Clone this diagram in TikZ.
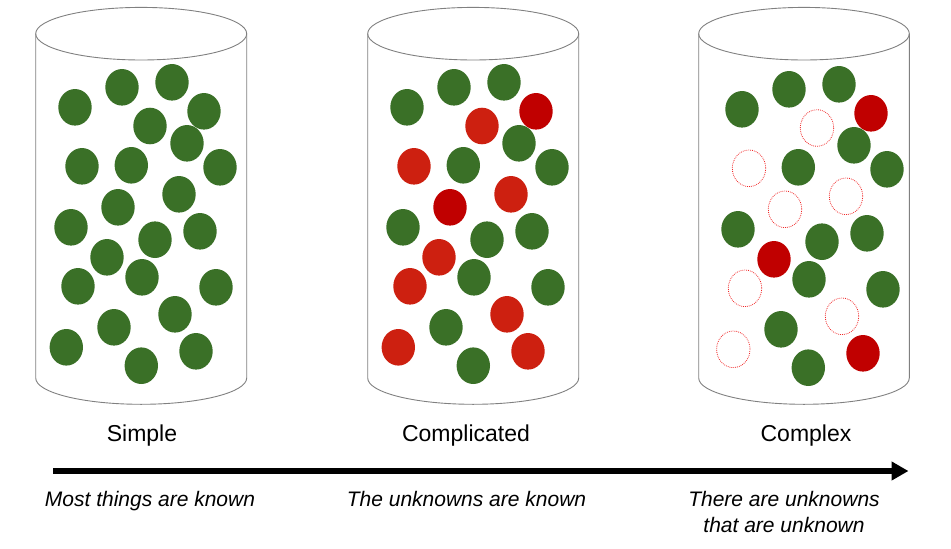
\documentclass[tikz,border=0pt]{standalone}
\usepackage{fontspec}
\setmainfont{Liberation Sans}
\usetikzlibrary{arrows.meta}
\definecolor{ballgreen}{HTML}{3A7027}
\definecolor{ballred}{HTML}{CD2010}
\definecolor{balldark}{HTML}{C00000}
\definecolor{cylgray}{HTML}{808080}
\definecolor{dotred}{HTML}{F02828}
\begin{document}
\begin{tikzpicture}[x=1pt,y=-1pt,
  cylline/.style={draw=cylgray, line width=0.9pt},
  G/.style={fill=ballgreen},
  R/.style={fill=ballred},
  D/.style={fill=balldark},
  U/.style={draw=dotred, line width=0.8pt, dash pattern=on 0.8pt off 1.1pt},
  title/.style={font=\fontsize{23}{27}\selectfont, inner sep=0pt},
  note/.style={font=\fontsize{21}{26}\selectfont\itshape, inner sep=0pt, align=center},
  timeline/.style={line width=6pt, -{Triangle[length=17pt,width=18pt]}}]
\useasboundingbox (0,0) rectangle (951,549);
% cylinders
\foreach \cx/\r in {141.2/105.5, 473.2/105.5, 804/105.3} {
  \draw[cylline] (\cx-\r,33.7) -- (\cx-\r,378)
     arc[start angle=180, end angle=0, x radius=\r, y radius=26.3] -- (\cx+\r,33.7);
  \draw[cylline] (\cx,33.7) ellipse[x radius=\r, y radius=26.3];
}
% jar 1: all green
\foreach \x/\y in {75/107.3, 122/87.3, 172/82.3, 204/111.3, 150/126, 187/143.3,
  82/166.3, 131.3/165.3, 220/167.3, 179/194.3, 118/207.3, 71/227.3,
  155/239.7, 200/231.3, 107/257.3, 142/277.3, 78/286.3, 216/287.3,
  175/314.3, 114/327.3, 66.3/347.3, 141.3/365.7, 196/351.3}
  { \path[G] (\x,\y) ellipse[x radius=16.7, y radius=18.3]; }
% jar 2
\foreach \x/\y/\s in {75/107.3/G, 122/87.3/G, 172/82.3/G, 204/111.3/D, 150/126/R, 187/143.3/G,
  82/166.3/R, 131.3/165.3/G, 220/167.3/G, 179/194.3/R, 118/207.3/D, 71/227.3/G,
  155/239.7/G, 200/231.3/G, 107/257.3/R, 142/277.3/G, 78/286.3/R, 216/287.3/G,
  175/314.3/R, 114/327.3/G, 66.3/347.3/R, 141.3/365.7/G, 196/351.3/R}
  { \path[\s] (\x+332,\y) ellipse[x radius=16.7, y radius=18.3]; }
% jar 3
\foreach \x/\y/\s in {75/107.3/G, 122/87.3/G, 172/82.3/G, 204/111.3/D, 150/126/U, 187/143.3/G,
  82/166.3/U, 131.3/165.3/G, 220/167.3/G, 179/194.3/U, 118/207.3/U, 71/227.3/G,
  155/239.7/G, 200/231.3/G, 107/257.3/D, 142/277.3/G, 78/286.3/U, 216/287.3/G,
  175/314.3/U, 114/327.3/G, 66.3/347.3/U, 141.3/365.7/G, 196/351.3/D}
  { \path[\s] (\x+667,\y+2) ellipse[x radius=16.7, y radius=18.3]; }
% labels
\node[title, anchor=base] (simple) at (142,441) {Simple};
\node[title, anchor=base] (complicated) at (466,441) {Complicated};
\node[title, anchor=base] (complex) at (806,441) {Complex};
% arrow
\coordinate (arrowstart) at (53,471);
\coordinate (arrowend) at (908.5,471);
\draw[timeline] (arrowstart) -- (arrowend);
% notes
\node[note, anchor=base] (n1) at (150,506) {Most things are known};
\node[note, anchor=base] (n2) at (466.5,506) {The unknowns are known};
\node[note, anchor=base] (n3) at (784,532) {There are unknowns\\that are unknown};
\end{tikzpicture}
\end{document}
